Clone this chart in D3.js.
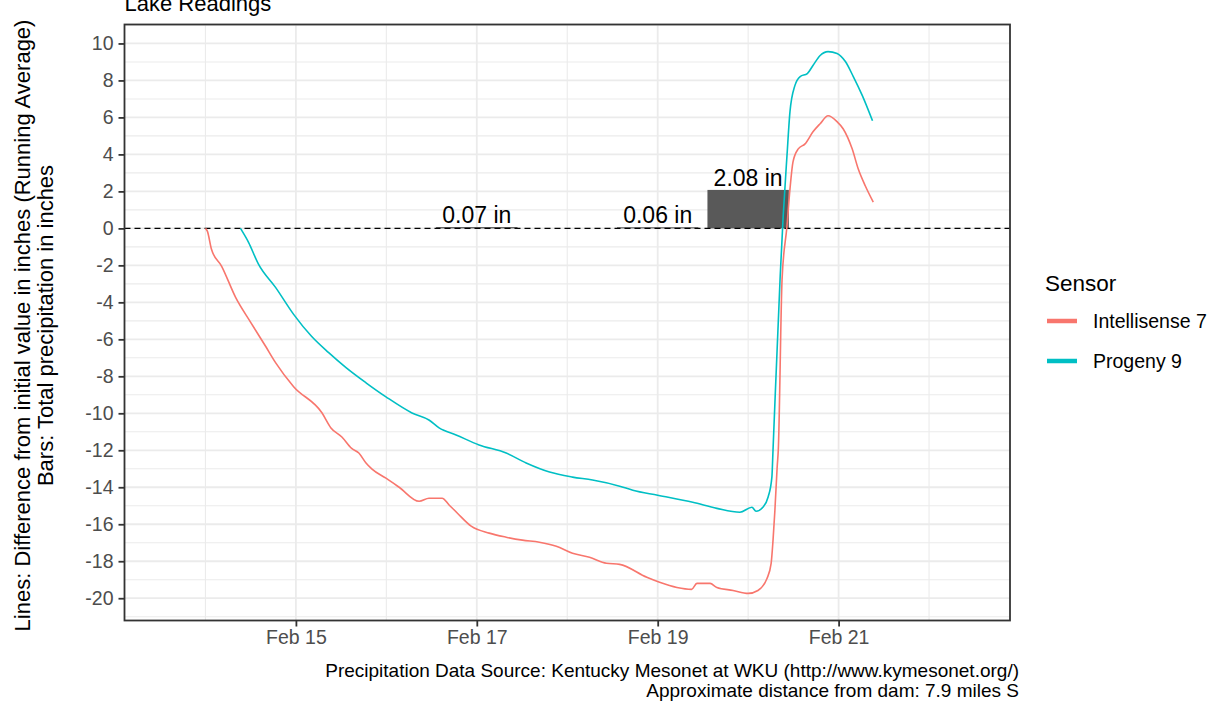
<!DOCTYPE html>
<html><head><meta charset="utf-8">
<script src="https://cdn.jsdelivr.net/npm/d3@7"></script>
<style>
body{margin:0;background:#fff}
svg{display:block;font-family:"Liberation Sans",Arial,sans-serif}
</style>
</head><body>
<svg id="chart" width="1215" height="707"></svg>
<script>
// ---------- data ----------
const title = "Lake Readings";
const sensors = ["Intellisense 7", "Progeny 9"];
const sensorColors = ["#F8766D", "#00BFC4"];

// hours since 2021-02-14 00:00
const intelHours = [0, 0.5, 1.6, 4.3, 8.0, 12.0, 16.0, 18.6, 23.4, 30.9, 33.3, 36.2, 38.8, 40.7, 42.6, 44.2, 47.9, 51.4, 56.7, 59.3, 62.8, 64.7, 66.8, 70.5, 75.3, 79.8, 84.1, 88.6, 93.1, 97.4, 101.9, 106.4, 109.9, 117.1, 120.5, 125.1, 129.0, 130.4, 133.9, 135.7, 140.0, 144.0, 146.6, 149.0, 150.1, 150.6, 151.1, 151.7, 152.0, 153.0, 154.3, 155.1, 155.9, 157.3, 159.1, 161.2, 163.1, 165.2, 167.6, 169.2, 171.6, 173.2, 175.1, 177.2];
const intelValues = [0, -0.15, -1.13, -2.05, -3.73, -5.08, -6.39, -7.26, -8.56, -9.97, -10.79, -11.28, -11.9, -12.15, -12.69, -13.02, -13.51, -14.0, -14.76, -14.59, -14.59, -14.97, -15.39, -16.1, -16.48, -16.7, -16.86, -16.97, -17.19, -17.57, -17.79, -18.11, -18.17, -18.87, -19.14, -19.42, -19.52, -19.2, -19.2, -19.42, -19.58, -19.74, -19.58, -18.93, -18.11, -16.87, -15.24, -12.9, -11.98, -2.75, 0.12, 2.13, 3.6, 4.3, 4.57, 5.22, 5.66, 6.09, 5.77, 5.39, 4.3, 3.22, 2.29, 1.42];

const progenyHours = [9.3, 11.4, 14.1, 18.6, 23.4, 28.2, 32.7, 37.3, 42.6, 47.9, 54.8, 59.3, 62.0, 66.5, 72.6, 79.8, 85.1, 91.3, 97.4, 102.7, 109.9, 113.4, 120.0, 129.3, 135.7, 141.8, 145.0, 146.1, 147.9, 149.3, 150.3, 150.6, 152.5, 153.3, 154.3, 155.1, 156.4, 157.8, 159.7, 161.2, 163.1, 165.2, 167.6, 169.8, 171.9, 174.3, 177.0];
const progenyValues = [0, -0.74, -1.95, -3.19, -4.65, -5.85, -6.72, -7.53, -8.35, -9.11, -9.98, -10.36, -10.79, -11.17, -11.71, -12.15, -12.69, -13.18, -13.45, -13.61, -13.94, -14.16, -14.43, -14.81, -15.14, -15.35, -15.08, -15.3, -15.08, -14.53, -13.45, -11.98, -2.59, 0.67, 3.92, 6.31, 7.72, 8.21, 8.37, 8.81, 9.35, 9.56, 9.46, 9.02, 8.21, 7.18, 5.82];

const precipDays = ["2021-02-14", "2021-02-15", "2021-02-16", "2021-02-17", "2021-02-18", "2021-02-19", "2021-02-20", "2021-02-21", "2021-02-22"];
const precipValues = [0, 0, 0, 0.07, 0, 0.06, 2.08, 0, 0];

const xTickDates = ["2021-02-15", "2021-02-17", "2021-02-19", "2021-02-21"];
const xTickLabels = ["Feb 15", "Feb 17", "Feb 19", "Feb 21"];
const xMinorDates = ["2021-02-14", "2021-02-16", "2021-02-18", "2021-02-20", "2021-02-22"];
const yTicks = [-20, -18, -16, -14, -12, -10, -8, -6, -4, -2, 0, 2, 4, 6, 8, 10];
const yTickLabels = yTicks.map(String);

const yTitleLines = ["Lines: Difference from initial value in inches (Running Average)", "Bars: Total precipitation in inches"];
const legendTitle = "Sensor";
const captionLines = ["Precipitation Data Source: Kentucky Mesonet at WKU (http://www.kymesonet.org/)", "Approximate distance from dam: 7.9 miles S"];

// ---------- setup ----------
const parseDay = d3.timeParse("%Y-%m-%d");
const base = parseDay("2021-02-14");
const hourDate = h => new Date(base.getTime() + h * 3600e3);
const DAY = 864e5;

const series = [
  {name: sensors[0], color: sensorColors[0], pts: intelHours.map((h, i) => ({t: hourDate(h), v: intelValues[i]}))},
  {name: sensors[1], color: sensorColors[1], pts: progenyHours.map((h, i) => ({t: hourDate(h), v: progenyValues[i]}))}
];
const bars = precipDays.map((d, i) => ({t: parseDay(d), v: precipValues[i]}));

const panel = {l: 124.5, r: 1010, t: 24.5, b: 620.5};
const svg = d3.select("#chart");

// x domain: bars (width 0.9 day) expanded by 5%
const barW = 0.9 * DAY;
let x0 = d3.min(bars, d => d.t.getTime()) - barW / 2;
let x1 = d3.max(bars, d => d.t.getTime()) + barW / 2;
const xe = (x1 - x0) * 0.05;
const x = d3.scaleTime().domain([new Date(x0 - xe), new Date(x1 + xe)]).range([panel.l, panel.r]);

const allV = series.flatMap(s => s.pts.map(p => p.v)).concat(precipValues);
let y0 = d3.min(allV), y1 = d3.max(allV);
const ye = (y1 - y0) * 0.05;
const y = d3.scaleLinear().domain([y0 - ye, y1 + ye]).range([panel.b, panel.t]);

const gridColor = "#EBEBEB";
const g = svg.append("g");

// panel background + grid
g.append("rect").attr("x", panel.l).attr("y", panel.t).attr("width", panel.r - panel.l).attr("height", panel.b - panel.t).attr("fill", "#fff");

const yMinor = d3.range(-21, 12, 2).filter(v => v >= y.domain()[0] && v <= y.domain()[1]);
g.selectAll(".ymin").data(yMinor).join("line")
  .attr("x1", panel.l).attr("x2", panel.r).attr("y1", d => y(d)).attr("y2", d => y(d))
  .attr("stroke", gridColor).attr("stroke-width", 1.1);
g.selectAll(".xmin").data(xMinorDates.map(parseDay)).join("line")
  .attr("x1", d => x(d)).attr("x2", d => x(d)).attr("y1", panel.t).attr("y2", panel.b)
  .attr("stroke", gridColor).attr("stroke-width", 1.1);
g.selectAll(".ymaj").data(yTicks).join("line")
  .attr("x1", panel.l).attr("x2", panel.r).attr("y1", d => y(d)).attr("y2", d => y(d))
  .attr("stroke", gridColor).attr("stroke-width", 1.8);
g.selectAll(".xmaj").data(xTickDates.map(parseDay)).join("line")
  .attr("x1", d => x(d)).attr("x2", d => x(d)).attr("y1", panel.t).attr("y2", panel.b)
  .attr("stroke", gridColor).attr("stroke-width", 1.8);

// bars
g.selectAll(".bar").data(bars).join("rect")
  .attr("x", d => x(new Date(d.t.getTime() - barW / 2)))
  .attr("width", d => x(new Date(d.t.getTime() + barW / 2)) - x(new Date(d.t.getTime() - barW / 2)))
  .attr("y", d => y(d.v)).attr("height", d => y(0) - y(d.v))
  .attr("fill", "#595959");

// zero line
g.append("line").attr("x1", panel.l).attr("x2", panel.r).attr("y1", y(0)).attr("y2", y(0))
  .attr("stroke", "#000").attr("stroke-width", 1.4).attr("stroke-dasharray", "6,4");

// lines
const line = d3.line().curve(d3.curveMonotoneX).x(d => x(d.t)).y(d => y(d.v));
g.selectAll(".series").data(series).join("path")
  .attr("d", d => line(d.pts)).attr("fill", "none")
  .attr("stroke", d => d.color).attr("stroke-width", 1.6).attr("stroke-linejoin", "round");

// bar labels
g.selectAll(".blab").data(bars.filter(d => d.v > 0)).join("text")
  .attr("x", d => x(d.t)).attr("y", d => y(d.v) - 4)
  .attr("text-anchor", "middle").attr("font-size", 23).attr("fill", "#000")
  .text(d => d.v.toFixed(2) + " in");

// border
g.append("rect").attr("x", panel.l).attr("y", panel.t).attr("width", panel.r - panel.l).attr("height", panel.b - panel.t)
  .attr("fill", "none").attr("stroke", "#333333").attr("stroke-width", 1.8);

// axes
const yAxis = d3.axisLeft(y).tickValues(yTicks).tickFormat((d, i) => yTickLabels[i]).tickSize(6).tickPadding(5);
const ya = svg.append("g").attr("transform", `translate(${panel.l},0)`).call(yAxis);
const xTickDateObjs = xTickDates.map(parseDay);
const xAxis = d3.axisBottom(x).tickValues(xTickDateObjs).tickFormat((d, i) => xTickLabels[i]).tickSize(6).tickPadding(3.5);
const xa = svg.append("g").attr("transform", `translate(0,${panel.b})`).call(xAxis);
[ya, xa].forEach(a => {
  a.select(".domain").remove();
  a.selectAll(".tick line").attr("stroke", "#333333").attr("stroke-width", 1.8);
  a.selectAll(".tick text").attr("font-size", 19.5).attr("fill", "#4D4D4D").attr("font-family", "Liberation Sans, Arial, sans-serif");
});

// y title
const cy = (panel.t + panel.b) / 2 + 3;
svg.append("text").attr("transform", `translate(30,${cy}) rotate(-90)`).attr("text-anchor", "middle")
  .attr("font-size", 22).attr("fill", "#000").text(yTitleLines[0]);
svg.append("text").attr("transform", `translate(53,${cy}) rotate(-90)`).attr("text-anchor", "middle")
  .attr("font-size", 22).attr("fill", "#000").text(yTitleLines[1]);

// title
svg.append("text").attr("x", panel.l).attr("y", 10.5).attr("font-size", 22).attr("fill", "#000").text(title);

// caption
captionLines.forEach((c, i) => {
  svg.append("text").attr("x", 1019).attr("y", 677 + i * 19.5).attr("text-anchor", "end")
    .attr("font-size", 19).attr("fill", "#000").text(c);
});

// legend
svg.append("text").attr("x", 1045).attr("y", 291).attr("font-size", 22.5).attr("fill", "#000").text(legendTitle);
series.forEach((s, i) => {
  const ly = 321 + i * 40;
  svg.append("line").attr("x1", 1047).attr("x2", 1077).attr("y1", ly).attr("y2", ly)
    .attr("stroke", s.color).attr("stroke-width", 4.5);
  svg.append("text").attr("x", 1093).attr("y", ly + 7).attr("font-size", 19.5).attr("fill", "#000").text(s.name);
});
</script>
</body></html>
